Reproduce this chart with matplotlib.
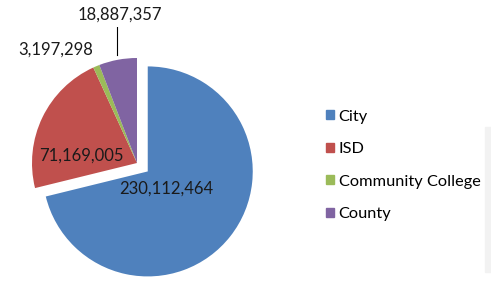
import numpy as np
import matplotlib
matplotlib.use("Agg")
import matplotlib.pyplot as plt

labels = ['City', 'ISD', 'Community College', 'County']
values = [230112464, 71169005, 3197298, 18887357]
value_text = ['230,112,464', '71,169,005', '3,197,298', '18,887,357']
colors = ['#4F81BD', '#C0504D', '#9BBB59', '#8064A2']
explode = [0.13, 0, 0, 0]

plt.rcParams['font.family'] = ['Lato', 'DejaVu Sans']

W, H = 491, 282
fig = plt.figure(figsize=(W / 100, H / 100), dpi=100)

# pie centre at (137, 163) px from top-left, radius 105 px
R = 105
lim = 1.3
size = 2 * lim * R
cx, cy = 137, H - 163
ax = fig.add_axes([(cx - size / 2) / W, (cy - size / 2) / H, size / W, size / H])

wedges, _ = ax.pie(values, colors=colors, explode=explode, startangle=90,
                   counterclock=False, wedgeprops=dict(linewidth=0))
ax.set_xlim(-lim, lim)
ax.set_ylim(-lim, lim)
ax.set_aspect('equal')
ax.axis('off')

# label positions (polar, relative to pie centre)
label_pos = [(0.37, -42), (0.53, 172.7), (1.33, 125.5), (1.42, 96.5)]
for txt, (r, ang) in zip(value_text, label_pos):
    a = np.deg2rad(ang)
    ax.text(r * np.cos(a), r * np.sin(a), txt, ha='center', va='center',
            fontsize=12, color='#1a1a1a')

# leader line for County label
ax.plot([-0.19, -0.19], [1.03, 1.30], color='black', linewidth=0.8)

handles = [plt.Rectangle((0, 0), 1, 1, color=c) for c in colors]
fig.legend(handles, labels, loc='upper left', bbox_to_anchor=(319 / W, 1 - 103 / H),
           frameon=False, fontsize=11.8, handlelength=0.5, handleheight=0.5,
           handletextpad=0.3, labelspacing=1.13, borderaxespad=0)

# faint grey strip at the right edge of the original screenshot
fig.patches.append(plt.Rectangle((485 / W, 10 / H), 6 / W, 145 / H,
                                 transform=fig.transFigure, color='#f2f2f2', zorder=0))

fig.savefig('out.png', dpi=100)
